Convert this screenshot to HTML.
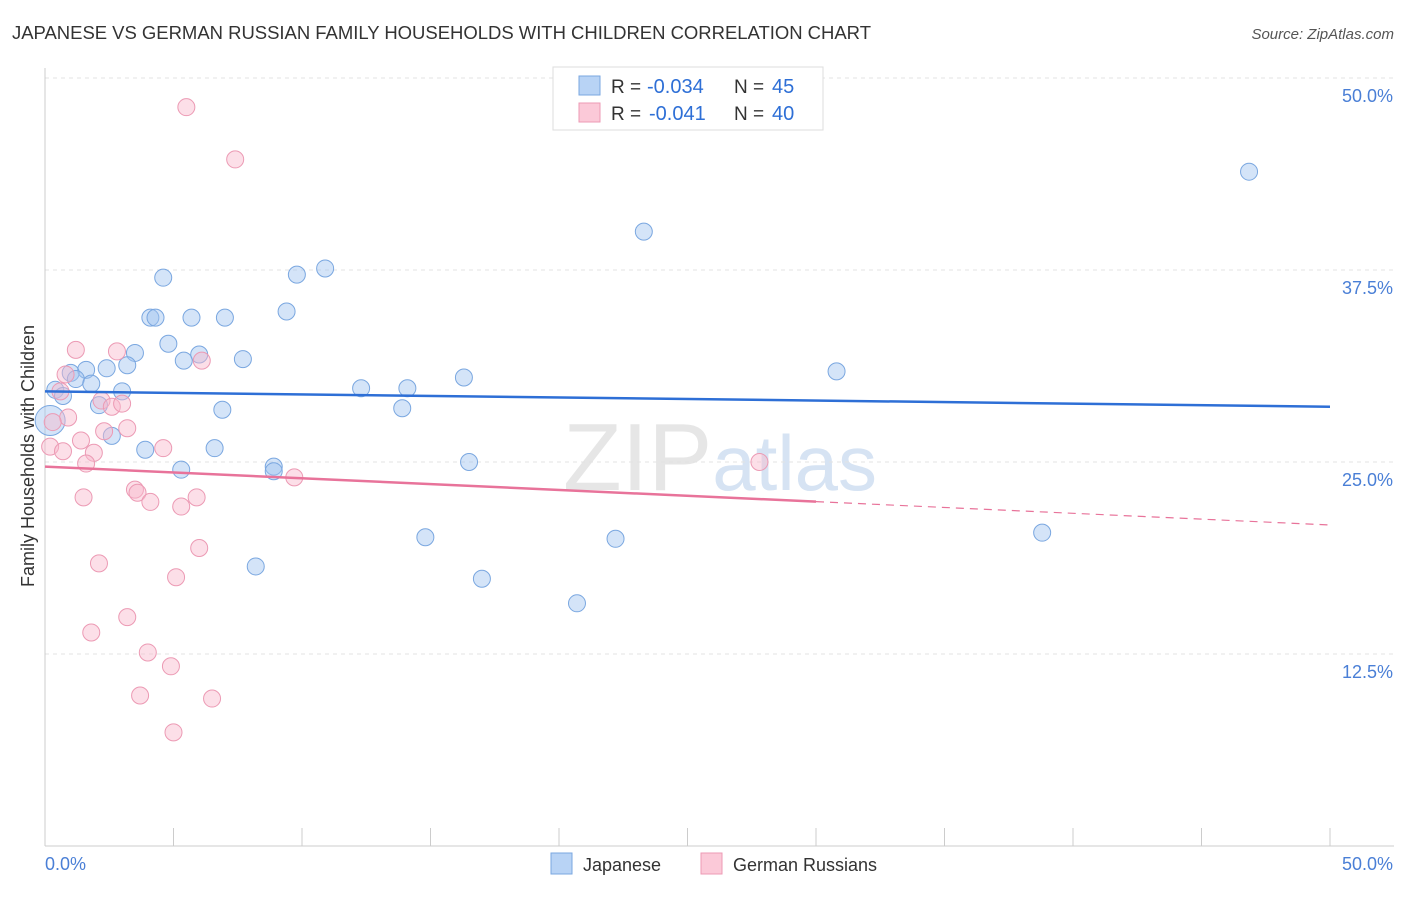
<!DOCTYPE html>
<html><head><meta charset="utf-8"><style>
body{margin:0;background:#fff;font-family:"Liberation Sans",sans-serif;}
svg text{font-family:"Liberation Sans",sans-serif;}
</style></head><body>
<svg id="chart" width="1406" height="892" xmlns="http://www.w3.org/2000/svg">
<text x="12" y="39" font-size="18.5" fill="#333" textLength="859">JAPANESE VS GERMAN RUSSIAN FAMILY HOUSEHOLDS WITH CHILDREN CORRELATION CHART</text>
<text x="1394" y="39" font-size="15" fill="#555" text-anchor="end" font-style="italic">Source: ZipAtlas.com</text>
<text x="720" y="490" font-size="96" fill="#e6e6e6" text-anchor="middle" font-family="Liberation Serif">ZIP<tspan fill="#d6e3f3" font-family="Liberation Sans" font-size="78">atlas</tspan></text>
<g id="grid"></g>
<g id="axes"></g>
<g id="marks"></g>
<text transform="translate(34,456) rotate(-90)" font-size="18" fill="#333" text-anchor="middle">Family Households with Children</text>
<g>
<rect x="553" y="67" width="270" height="63" fill="#fff" stroke="#ddd"/>
<rect x="579" y="76" width="21" height="19" fill="#b8d3f5" stroke="#7aa7e0"/>
<rect x="579" y="103" width="21" height="19" fill="#fbc9d8" stroke="#ec9ab4"/>
<text x="611" y="93" font-size="19" fill="#333">R =</text>
<text x="647" y="93" font-size="20" fill="#2e6fd6">-0.034</text>
<text x="734" y="93" font-size="19" fill="#333">N =</text>
<text x="772" y="93" font-size="20" fill="#2e6fd6">45</text>
<text x="611" y="120" font-size="19" fill="#333">R =</text>
<text x="649" y="120" font-size="20" fill="#2e6fd6">-0.041</text>
<text x="734" y="120" font-size="19" fill="#333">N =</text>
<text x="772" y="120" font-size="20" fill="#2e6fd6">40</text>
</g>
<g>
<rect x="551" y="853" width="21" height="21" fill="#b8d3f5" stroke="#7aa7e0"/>
<text x="583" y="871" font-size="18" fill="#333">Japanese</text>
<rect x="701" y="853" width="21" height="21" fill="#fbc9d8" stroke="#ec9ab4"/>
<text x="733" y="871" font-size="18" fill="#333">German Russians</text>
</g>
</svg>
<script>
const yTicks=[12.5,25,37.5,50];
const yTickLabels=["12.5%","25.0%","37.5%","50.0%"];
const jpX=[46.85,23.3,4.6,9.8,10.9,9.4,4.1,4.3,5.7,7.0,4.8,3.5,6.0,5.4,7.7,3.2,2.4,1.6,1.0,1.2,1.8,16.3,30.8,12.3,14.1,0.4,0.7,3.0,2.1,6.9,13.9,0.2,2.6,3.9,6.6,16.5,5.3,8.9,8.9,38.8,14.8,22.2,8.2,17.0,20.7];
const jpY=[43.9,40.0,37.0,37.2,37.6,34.8,34.4,34.4,34.4,34.4,32.7,32.1,32.0,31.6,31.7,31.3,31.1,31.0,30.8,30.4,30.1,30.5,30.9,29.8,29.8,29.7,29.3,29.6,28.7,28.4,28.5,27.7,26.7,25.8,25.9,25.0,24.5,24.7,24.4,20.4,20.1,20.0,18.2,17.4,15.8];
const grX=[5.5,7.4,1.2,2.8,6.1,0.8,0.6,2.2,2.6,3.0,0.9,0.3,2.3,3.2,1.4,0.2,0.7,1.9,4.6,1.6,27.8,9.7,3.5,3.6,1.5,4.1,5.9,5.3,6.0,2.1,5.1,3.2,1.8,4.0,4.9,3.7,6.5,5.0];
const grY=[48.1,44.7,32.3,32.2,31.6,30.7,29.6,29.0,28.6,28.8,27.9,27.6,27.0,27.2,26.4,26.0,25.7,25.6,25.9,24.9,25.0,24.0,23.2,23.0,22.7,22.4,22.7,22.1,19.4,18.4,17.5,14.9,13.9,12.6,11.7,9.8,9.6,7.4];
const jpTrend=[29.6,28.6];
const grTrend=[24.7,20.9];
const grSolidEnd=30;
const NS="http://www.w3.org/2000/svg";
const X=v=>45+v*25.7, Y=v=>846-v*15.36;
function mk(tag,attrs,parent){const e=document.createElementNS(NS,tag);for(const k in attrs)e.setAttribute(k,attrs[k]);document.getElementById(parent).appendChild(e);return e;}
yTicks.forEach((t,i)=>{
 const l=mk('line',{x1:45,x2:1394,y1:Y(t),y2:Y(t),stroke:'#e3e3e3','stroke-dasharray':'4,4'},'grid');
 
 
 const tx=mk('text',{x:1393,y:Y(t)+24,'font-size':18,fill:'#4a7fd6','text-anchor':'end'},'grid');
 tx.textContent=yTickLabels[i];
 
 
});
mk('line',{x1:45,x2:45,y1:68,y2:846,stroke:'#ccc'},'axes');
mk('line',{x1:45,x2:1394,y1:846,y2:846,stroke:'#ccc'},'axes');
for(let i=0;i<=10;i++){const t=mk('line',{x1:X(i*5),x2:X(i*5),y1:828,y2:846,stroke:'#ccc'},'axes');}
let a=mk('text',{x:45,y:870,'font-size':18,fill:'#4a7fd6'},'axes');a.textContent='0.0%';


a=mk('text',{x:1393,y:870,'font-size':18,fill:'#4a7fd6','text-anchor':'end'},'axes');a.textContent='50.0%';


jpX.forEach((x,i)=>{const c=mk('circle',{cx:X(x),cy:Y(jpY[i]),r:i==31?15:8.5,fill:'rgba(160,196,240,0.45)',stroke:'#7aa7e0','stroke-width':1},'marks');
 
 });
grX.forEach((x,i)=>{const c=mk('circle',{cx:X(x),cy:Y(grY[i]),r:8.5,fill:'rgba(248,184,204,0.45)',stroke:'#ec9ab4','stroke-width':1},'marks');
 
 });
let l=mk('line',{x1:X(0),y1:Y(jpTrend[0]),x2:X(50),y2:Y(jpTrend[1]),stroke:'#2e6fd6','stroke-width':2.5},'marks');


const gy=x=>grTrend[0]+(grTrend[1]-grTrend[0])*x/50;
l=mk('line',{x1:X(0),y1:Y(gy(0)),x2:X(grSolidEnd),y2:Y(gy(grSolidEnd)),stroke:'#e8739a','stroke-width':2.5},'marks');


l=mk('line',{x1:X(grSolidEnd),y1:Y(gy(grSolidEnd)),x2:X(50),y2:Y(gy(50)),stroke:'#e8739a','stroke-width':1.2,'stroke-dasharray':'8,6'},'marks');


</script>
</body></html>
